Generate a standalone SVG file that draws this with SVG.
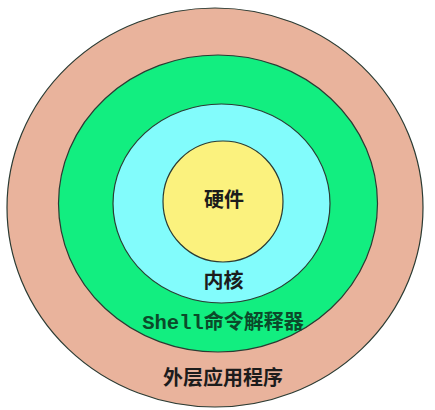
<svg xmlns="http://www.w3.org/2000/svg" width="435" height="410" viewBox="0 0 435 410">
<style>
.ring{stroke:#2b3b33;stroke-width:1.2}
.lbl{font-family:"Noto Sans CJK SC","Liberation Sans",sans-serif;font-weight:bold;font-size:20px;text-anchor:middle;fill:#1c1c1c}
.mono{font-family:"Liberation Mono",monospace;font-weight:bold}
</style>
<rect width="435" height="410" fill="#ffffff"/>
<g id="app">
<ellipse class="ring" cx="215" cy="207.5" rx="208" ry="199.5" fill="#E9B39C"/>
<text class="lbl" x="223" y="385">外层应用程序</text>
</g>
<g id="shell">
<ellipse class="ring" cx="218" cy="203.5" rx="159.5" ry="148.5" fill="#12EE80"/>
<text class="lbl" x="223" y="329" fill="#0b4a2a" style="fill:#0b4a2a"><tspan class="mono" font-size="20.5">Shell</tspan>命令解释器</text>
</g>
<g id="kernel">
<ellipse class="ring" cx="221.5" cy="203.5" rx="108.5" ry="99.5" fill="#82FCFC"/>
<text class="lbl" x="223.5" y="288">内核</text>
</g>
<g id="hardware">
<ellipse class="ring" cx="223" cy="201.5" rx="60" ry="60.5" fill="#FBF27E"/>
<text class="lbl" x="224" y="207">硬件</text>
</g>
<g id="connectors"/>
</svg>
